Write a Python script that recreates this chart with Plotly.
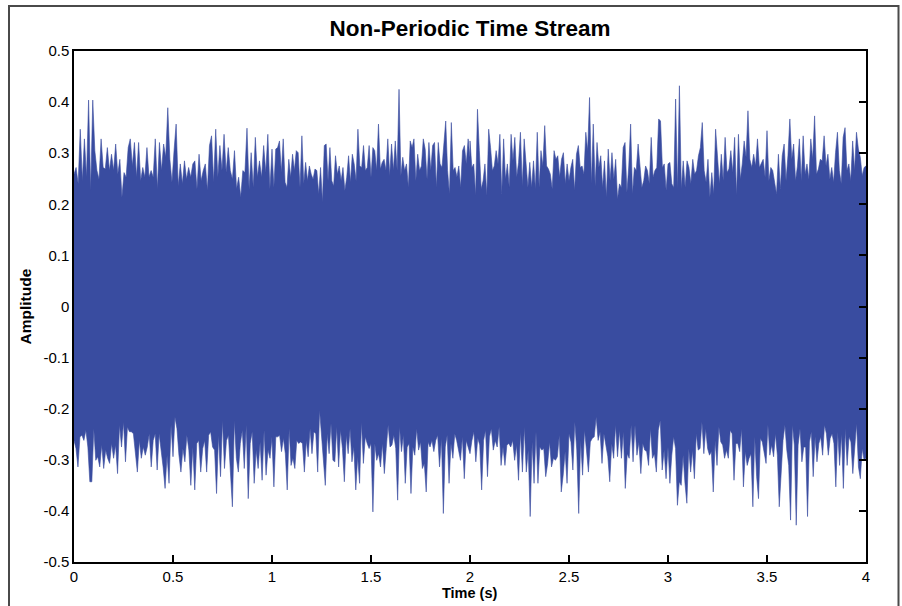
import numpy as np
import plotly.graph_objects as go

# Upper and lower edges of the noise band, one list per one-second window
upper_0 = [.259, .272, .240, .347, .246, .328, .253, .404, .227, .404, .305, .266, .249, .328, .272, .269,
           .311, .266, .298, .266, .318, .259, .288, .214, .262, .253, .311, .328, .275, .321, .253, .321,
           .246, .272, .253, .311, .253, .266, .253, .328, .230, .321, .266, .318, .292, .389, .288, .243,
           .305, .357, .236, .279, .240, .285, .249, .272, .253, .279, .285, .230, .298, .246, .266, .279,
           .227, .315, .334, .243, .347, .253, .315, .266, .337, .262, .311, .266, .249, .305, .230, .253,
           .214, .266, .262, .349, .230, .301, .233, .331, .253, .285, .253, .315, .262, .337, .230, .305]
upper_1 = [.308, .233, .308, .311, .324, .262, .328, .243, .233, .288, .253, .298, .266, .305, .301, .233,
           .334, .240, .282, .246, .275, .259, .249, .269, .266, .220, .272, .204, .315, .318, .246, .311,
           .246, .236, .295, .259, .275, .246, .272, .227, .253, .295, .243, .298, .279, .246, .347, .275,
           .272, .315, .266, .272, .315, .253, .311, .305, .266, .357, .269, .282, .288, .266, .328, .256,
           .318, .266, .324, .266, .425, .256, .292, .266, .279, .233, .324, .311, .328, .246, .298, .266,
           .275, .328, .308, .249, .321, .266, .315, .321, .233, .321, .279, .272, .321, .363, .266, .220,
           .360, .266, .272, .253, .275, .233, .305, .315, .279, .328, .292]
upper_2 = [.324, .272, .279, .217, .386, .305, .230, .246, .279, .217, .347, .311, .266, .275, .305, .279,
           .337, .220, .328, .249, .279, .233, .337, .285, .331, .253, .282, .341, .236, .328, .288, .233,
           .282, .233, .285, .230, .341, .233, .305, .275, .354, .275, .269, .259, .230, .305, .288, .295,
           .253, .288, .301, .240, .279, .246, .272, .288, .227, .298, .315, .272, .275, .259, .341, .305,
           .409, .240, .357, .236, .321, .272, .295, .233, .285, .214, .308, .246, .301, .249, .288, .210,
           .240, .233, .311, .321, .223, .275, .357, .220, .272, .266, .318, .266, .233, .246, .275, .266,
           .240, .331, .253, .266, .272, .367, .363, .272, .279, .227, .279]
upper_3 = [.279, .282, .240, .233, .406, .230, .432, .230, .285, .233, .285, .272, .240, .288, .259, .266,
           .295, .311, .360, .266, .243, .288, .214, .262, .220, .347, .292, .240, .298, .246, .331, .262,
           .269, .305, .262, .331, .217, .337, .249, .279, .324, .292, .383, .288, .272, .298, .275, .328,
           .272, .279, .288, .253, .344, .246, .272, .266, .246, .220, .298, .230, .295, .318, .246, .295,
           .367, .288, .318, .246, .275, .328, .246, .334, .259, .279, .249, .328, .288, .373, .259, .269,
           .288, .285, .334, .275, .298, .249, .272, .243, .301, .341, .266, .240, .331, .350, .266, .279,
           .246, .324, .266, .341, .308, .292, .256, .272, .275]

lower_0 = [-.262, -.278, -.314, -.255, -.252, -.262, -.242, -.275, -.343, -.343, -.239, -.301, -.294, -.314,
           -.271, -.317, -.281, -.297, -.307, -.268, -.297, -.271, -.327, -.232, -.275, -.226, -.304, -.236,
           -.245, -.245, -.249, -.288, -.324, -.262, -.297, -.275, -.291, -.275, -.249, -.314, -.262, -.249,
           -.320, -.249, -.284, -.314, -.356, -.291, -.346, -.232, -.294, -.216, -.239, -.291, -.324, -.278,
           -.304, -.252, -.281, -.350, -.275, -.359, -.268, -.262, -.324, -.278, -.262, -.324, -.252, -.245,
           -.275, -.281, -.366, -.252, -.333, -.223, -.317, -.262, -.252, -.324, -.392, -.223, -.297, -.324,
           -.268, -.242, -.317, -.232, -.376, -.268, -.245, -.346, -.281, -.317, -.265, -.340, -.242, -.330,
           -.281, -.297, -.255]
lower_1 = [-.262, -.353, -.255, -.255, -.252, -.284, -.258, -.288, -.359, -.239, -.311, -.297, -.317, -.262,
           -.268, -.265, -.268, -.324, -.262, -.294, -.239, -.288, -.245, -.249, -.324, -.203, -.271, -.301,
           -.350, -.249, -.288, -.229, -.301, -.304, -.236, -.314, -.242, -.278, -.343, -.252, -.288, -.239,
           -.304, -.275, -.359, -.294, -.346, -.226, -.307, -.255, -.268, -.278, -.268, -.402, -.268, -.301,
           -.288, -.314, -.268, -.327, -.278, -.232, -.275, -.271, -.252, -.278, -.379, -.236, -.284, -.252,
           -.346, -.275, -.268, -.366, -.275, -.291, -.239, -.281, -.265, -.317, -.307, -.363, -.265, -.275,
           -.262, -.284, -.262, -.252, -.314, -.258, -.405, -.275, -.252, -.346, -.268, -.297, -.249, -.262,
           -.278, -.301, -.255, -.337, -.262, -.275, -.288]
lower_2 = [-.288, -.262, -.245, -.304, -.258, -.271, -.359, -.262, -.242, -.333, -.255, -.239, -.281, -.262,
           -.275, -.236, -.311, -.275, -.311, -.271, -.268, -.275, -.262, -.301, -.271, -.340, -.245, -.324,
           -.236, -.324, -.281, -.411, -.265, -.346, -.245, -.346, -.275, -.281, -.278, -.333, -.307, -.265,
           -.314, -.297, -.301, -.294, -.252, -.363, -.330, -.284, -.346, -.249, -.265, -.320, -.226, -.281,
           -.405, -.262, -.330, -.242, -.281, -.324, -.265, -.258, -.255, -.216, -.262, -.245, -.307, -.249,
           -.268, -.294, -.343, -.268, -.297, -.232, -.294, -.242, -.297, -.245, -.356, -.288, -.297, -.232,
           -.304, -.232, -.291, -.265, -.327, -.268, -.281, -.284, -.311, -.239, -.297, -.288, -.324, -.242,
           -.223, -.320, -.281, -.337, -.275]
lower_3 = [-.291, -.346, -.291, -.255, -.278, -.389, -.343, -.350, -.291, -.346, -.385, -.278, -.324, -.281,
           -.337, -.249, -.281, -.278, -.226, -.288, -.239, -.278, -.291, -.284, -.363, -.262, -.311, -.236,
           -.265, -.271, -.297, -.281, -.297, -.242, -.249, -.340, -.268, -.268, -.284, -.239, -.353, -.284,
           -.311, -.297, -.288, -.392, -.255, -.333, -.376, -.258, -.265, -.288, -.307, -.232, -.291, -.271,
           -.294, -.249, -.291, -.392, -.317, -.262, -.232, -.281, -.311, -.418, -.232, -.271, -.428, -.271,
           -.239, -.304, -.275, -.275, -.411, -.265, -.245, -.333, -.255, -.304, -.268, -.255, -.291, -.232,
           -.249, -.291, -.258, -.249, -.268, -.353, -.245, -.311, -.249, -.356, -.239, -.311, -.255, -.265,
           -.327, -.275, -.229, -.314, -.337, -.278, -.301, -.297]

window_start = [0, 1, 2, 3]          # seconds
upper_windows = [upper_0, upper_1, upper_2, upper_3]
lower_windows = [lower_0, lower_1, lower_2, lower_3]

x_ticks = [0, 0.5, 1, 1.5, 2, 2.5, 3, 3.5, 4]
x_tick_text = ["0", "0.5", "1", "1.5", "2", "2.5", "3", "3.5", "4"]
y_ticks = [-0.5, -0.4, -0.3, -0.2, -0.1, 0, 0.1, 0.2, 0.3, 0.4, 0.5]
y_tick_text = ["-0.5", "-0.4", "-0.3", "-0.2", "-0.1", "0", "0.1", "0.2", "0.3", "0.4", "0.5"]


def edge(windows):
    t, v = [], []
    for start, vals in zip(window_start, windows):
        t.extend(np.linspace(start, start + 1, len(vals)))
        v.extend(vals)
    return np.array(t), np.array(v)


t_up, v_up = edge(upper_windows)
t_lo, v_lo = edge(lower_windows)

# closed outline: along the top edge, then back along the bottom edge
poly_t = np.concatenate([t_up, t_lo[::-1]])
poly_v = np.concatenate([v_up, v_lo[::-1]])

BLUE = "rgb(57,76,160)"
FONT = "Liberation Sans, Arial, sans-serif"

fig = go.Figure()
fig.add_trace(go.Scatter(
    x=poly_t, y=poly_v, mode="lines", fill="toself",
    fillcolor=BLUE, line=dict(color=BLUE, width=0.6),
    hoverinfo="skip", showlegend=False,
))
# carries the right-hand tick marks
fig.add_trace(go.Scatter(x=[], y=[], yaxis="y2", showlegend=False, hoverinfo="skip"))

fig.update_layout(
    width=902, height=606,
    margin=dict(l=74, r=36, t=51, b=44, pad=0),
    paper_bgcolor="white", plot_bgcolor="white",
    font=dict(family=FONT, color="black", size=15),
    title=dict(text="<b>Non-Periodic Time Stream</b>", x=0.5, xref="paper",
               y=1 - 28 / 606, yref="container", yanchor="middle", xanchor="center",
               font=dict(size=22.5, family=FONT, color="black")),
    xaxis=dict(range=[0, 4], tickmode="array", tickvals=x_ticks, ticktext=x_tick_text,
               showline=True, linecolor="black", linewidth=1.5, mirror=True,
               ticks="inside", ticklen=7, tickwidth=1.5, tickcolor="black",
               showgrid=False, zeroline=False, tickfont=dict(size=15)),
    yaxis=dict(range=[-0.5, 0.5], tickmode="array", tickvals=y_ticks, ticktext=y_tick_text,
               showline=True, linecolor="black", linewidth=1.5, mirror=True,
               ticks="", showgrid=False, zeroline=False, tickfont=dict(size=15)),
    yaxis2=dict(range=[-0.5, 0.5], overlaying="y", side="right", anchor="x",
                tickmode="array", tickvals=y_ticks, showticklabels=False,
                ticks="inside", ticklen=7, tickwidth=1.5, tickcolor="black",
                showline=False, showgrid=False, zeroline=False),
    annotations=[
        dict(text="<b>Time (s)</b>", x=0.5, y=(562 - 593) / 511, xref="paper", yref="paper",
             xanchor="center", yanchor="middle", showarrow=False, font=dict(size=14.5)),
        dict(text="<b>Amplitude</b>", x=(25 - 74) / 792, y=0.5, xref="paper", yref="paper",
             xanchor="center", yanchor="middle", textangle=-90, showarrow=False,
             font=dict(size=15.5)),
    ],
    shapes=[dict(type="rect", xref="paper", yref="paper",
                 x0=(9 - 74) / 792, x1=(898.5 - 74) / 792, y0=-0.2, y1=(562 - 6) / 511,
                 line=dict(color="#4a4a4a", width=2), fillcolor="rgba(0,0,0,0)")],
)

fig.write_html("out.html")
